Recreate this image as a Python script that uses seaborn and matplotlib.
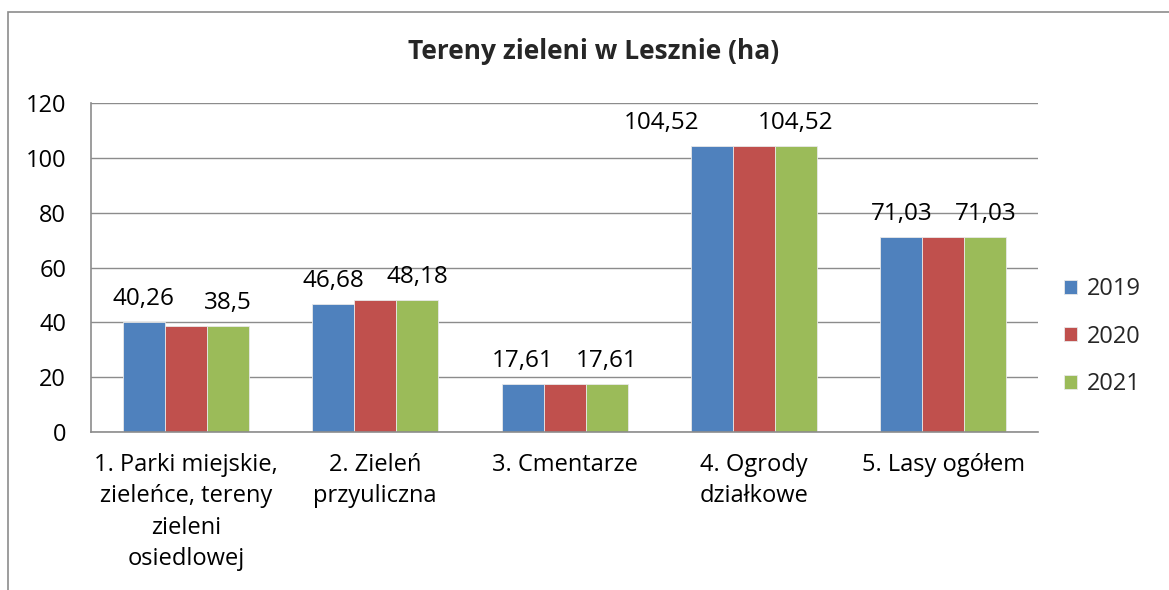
import numpy as np
import pandas as pd
import seaborn as sns
import matplotlib.pyplot as plt
from matplotlib.patches import Rectangle

# Tereny zieleni w Lesznie (ha)
categories = [
    "1. Parki miejskie,\nzieleńce, tereny\nzieleni\nosiedlowej",
    "2. Zieleń\nprzyuliczna",
    "3. Cmentarze",
    "4. Ogrody\ndziałkowe",
    "5. Lasy ogółem",
]
years = ["2019", "2020", "2021"]
values_2019 = [40.26, 46.68, 17.61, 104.52, 71.03]
values_2020 = [38.5, 48.18, 17.61, 104.52, 71.03]
values_2021 = [38.5, 48.18, 17.61, 104.52, 71.03]
labelled_years = ["2019", "2021"]

colors = ["#4F81BD", "#C0504D", "#9BBB59"]

df = pd.DataFrame({
    "kategoria": categories * 3,
    "rok": [y for y in years for _ in categories],
    "ha": values_2019 + values_2020 + values_2021,
})


def fmt_pl(v):
    s = f"{v:.2f}".rstrip("0").rstrip(".")
    return s.replace(".", ",")


sns.set_theme(style="white")
plt.rcParams["font.family"] = ["Open Sans", "DejaVu Sans"]

fig = plt.figure(figsize=(11.69, 5.90), dpi=100)
ax = fig.add_axes([0.078, 0.268, 0.810, 0.557])

sns.barplot(
    data=df, x="kategoria", y="ha", hue="rok", palette=colors,
    width=0.665, ax=ax, edgecolor="#e8e8e8", linewidth=0.6, saturation=1,
)

pad = 8
for cont, year in zip(ax.containers, years):
    if year in labelled_years:
        anns = ax.bar_label(cont, labels=[fmt_pl(v) for v in cont.datavalues],
                            padding=pad, fontsize=17.5, color="black")
        if year == "2019":
            # label over the Ogrody bar sits moved left, like in the original
            anns[3].xyann = (-36, pad)

ax.set_ylim(0, 120)
ax.set_yticks(range(0, 121, 20))
ax.yaxis.grid(True, color="#8c8c8c", linewidth=1)
ax.set_axisbelow(True)
ax.set_xlabel("")
ax.set_ylabel("")
ax.tick_params(axis="both", length=0, labelsize=17, colors="black")
ax.tick_params(axis="y", pad=18)
ax.tick_params(axis="x", pad=15)
for lbl in ax.get_xticklabels():
    lbl.set_linespacing(1.42)
for side in ["top", "right"]:
    ax.spines[side].set_visible(False)
for side in ["left", "bottom"]:
    ax.spines[side].set_color("#8c8c8c")
    ax.spines[side].set_linewidth(1.2)

ax.legend(loc="center left", bbox_to_anchor=(1.005, 0.29), frameon=False,
          fontsize=17, handlelength=0.55, handleheight=0.55,
          handletextpad=0.4, labelspacing=1.0)

fig.text(0.508, 0.912, "Tereny zieleni w Lesznie (ha)", ha="center", va="center",
         fontsize=19, fontweight="bold")

fig.patches.append(Rectangle((8 / 1169, -0.05), 1.1, 0.05 + (590 - 12) / 590,
                             transform=fig.transFigure, fill=False,
                             edgecolor="#8c8c8c", linewidth=1.2))

fig.savefig("out.png", dpi=100)
